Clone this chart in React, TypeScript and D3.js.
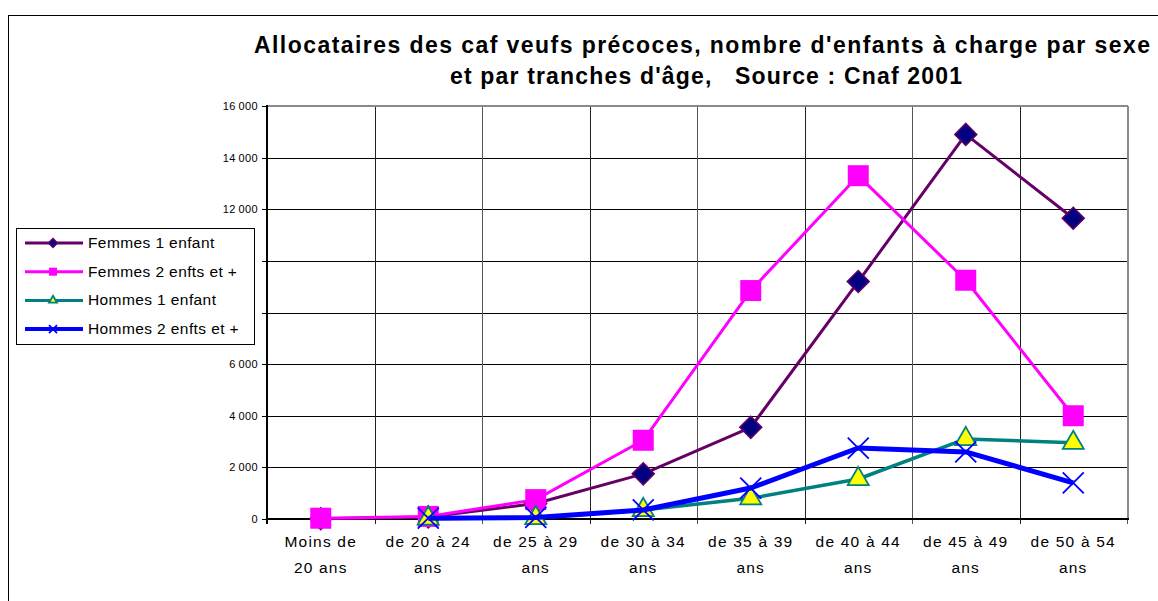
import React from "react";
import * as d3 from "d3";

// age brackets (two text lines each, as printed under the axis)
const categoryLine1 = ["Moins de", "de 20 à 24", "de 25 à 29", "de 30 à 34", "de 35 à 39", "de 40 à 44", "de 45 à 49", "de 50 à 54"];
const categoryLine2 = ["20 ans", "ans", "ans", "ans", "ans", "ans", "ans", "ans"];

// values (null = no point)
const femmes1 = [10, 80, 600, 1750, 3550, 9200, 14900, 11650];
const femmes2 = [30, 100, 750, 3050, 8850, 13300, 9250, 4000];
const hommes1 = [null, 20, 40, 350, 800, 1550, 3100, 2950];
const hommes2 = [null, 30, 60, 350, 1200, 2750, 2600, 1400];

const seriesNames = ["Femmes 1 enfant", "Femmes 2 enfts et +", "Hommes 1 enfant", "Hommes 2 enfts et +"];
const yTicks = [0, 2000, 4000, 6000, 8000, 10000, 12000, 14000, 16000];

const titleLine1 = "Allocataires des caf veufs précoces, nombre d'enfants à charge par sexe";
const titleLine2 = "et par tranches d'âge,   Source : Cnaf 2001";

const W = 1158;
const H = 601;
const plot = { left: 267, right: 1127, top: 106, bottom: 519 };
const legendBox = { x: 16.5, y: 228.5, w: 238, h: 116 };
const font = "'Liberation Sans', Arial, sans-serif";

type Style = { line: string; width: number; marker: string };
const styles: Style[] = [
  { line: "#660066", width: 3, marker: "diamond" },
  { line: "#ff00ff", width: 3, marker: "square" },
  { line: "#008080", width: 3.5, marker: "triangle" },
  { line: "#0000ff", width: 5, marker: "cross" },
];

function Marker({ kind, x, y, s }: { kind: string; x: number; y: number; s: number }) {
  if (kind === "diamond") {
    const p = d3.symbol().type(d3.symbolSquare).size(s * s * 0.5)();
    return <path d={p!} transform={`translate(${x},${y}) rotate(45)`} fill="#000080" stroke="#660066" strokeWidth={1.5} />;
  }
  if (kind === "square") {
    const p = d3.symbol().type(d3.symbolSquare).size(s * s)();
    return <path d={p!} transform={`translate(${x},${y})`} fill="#ff00ff" />;
  }
  if (kind === "triangle") {
    const p = d3.symbol().type(d3.symbolTriangle).size((Math.sqrt(3) / 4) * s * s)();
    return <path d={p!} transform={`translate(${x},${y})`} fill="#ffff00" stroke="#008080" strokeWidth={1.8} />;
  }
  const h = s / 2;
  return (
    <path d={`M${x - h},${y - h}L${x + h},${y + h}M${x - h},${y + h}L${x + h},${y - h}`} stroke="#0000ff" strokeWidth={1.8} fill="none" />
  );
}

export default function App() {
  const allSeries = [femmes1, femmes2, hommes1, hommes2];

  const x = d3.scaleBand<number>().domain(d3.range(categoryLine1.length)).range([plot.left, plot.right]).padding(0);
  const y = d3.scaleLinear().domain([0, 16000]).range([plot.bottom, plot.top]);
  const cx = (i: number) => (x(i) as number) + x.bandwidth() / 2;

  const line = d3
    .line<number | null>()
    .defined((d) => d !== null)
    .x((_, i) => cx(i))
    .y((d) => y(d as number));

  const bounds = d3.range(categoryLine1.length + 1).map((i) => plot.left + i * x.bandwidth());
  // Excel drops the tick labels that the legend sits on
  const hiddenByLegend = (t: number) => y(t) > legendBox.y - 6 && y(t) < legendBox.y + legendBox.h + 6;

  return (
    <svg width={W} height={H} style={{ position: "absolute", left: 0, top: 0, background: "#fff" }}>
      {/* outer chart frame */}
      <rect x={8.5} y={15.5} width={1200} height={700} fill="#fff" stroke="#000" strokeWidth={1} />

      {/* title */}
      <text x={254} y={53} fontFamily={font} fontWeight="bold" fontSize={23} textLength={896} lengthAdjust="spacing">
        {titleLine1}
      </text>
      <text x={450} y={84} fontFamily={font} fontWeight="bold" fontSize={23} textLength={512} lengthAdjust="spacing" style={{ whiteSpace: "pre" }}>
        {titleLine2}
      </text>

      {/* horizontal grid */}
      {yTicks.map((t) => (
        <g key={t}>
          <line x1={plot.left - 5} x2={plot.right} y1={Math.round(y(t)) + 0.5} y2={Math.round(y(t)) + 0.5} stroke="#000" strokeWidth={1} />
          {!hiddenByLegend(t) && (
            <text x={258} y={y(t) + 4} textAnchor="end" fontFamily={font} fontSize={11} letterSpacing={0.4}>
              {d3.format(",")(t).replace(",", "\u2009")}
            </text>
          )}
        </g>
      ))}

      {/* vertical grid + x ticks */}
      {bounds.map((b, i) => (
        <line key={i} x1={Math.round(b) + 0.5} x2={Math.round(b) + 0.5} y1={plot.top} y2={plot.bottom + 5} stroke={i % 2 ? "#222" : "#555"} strokeWidth={1} />
      ))}

      {/* plot frame */}
      <line x1={plot.left} x2={plot.right + 1} y1={plot.top} y2={plot.top} stroke="#8a8a8a" strokeWidth={2} />
      <line x1={plot.right + 1} x2={plot.right + 1} y1={plot.top} y2={plot.bottom} stroke="#8a8a8a" strokeWidth={2} />
      <line x1={plot.left} x2={plot.left} y1={plot.top - 1} y2={plot.bottom + 5} stroke="#000" strokeWidth={2} />
      <line x1={plot.left} x2={plot.right + 2} y1={plot.bottom} y2={plot.bottom} stroke="#000" strokeWidth={2} />

      {/* x labels */}
      {categoryLine1.map((c, i) => (
        <g key={c} fontFamily={font} fontSize={15.5} textAnchor="middle" letterSpacing={1.2}>
          <text x={cx(i)} y={547}>{c}</text>
          <text x={cx(i)} y={573}>{categoryLine2[i]}</text>
        </g>
      ))}

      {/* series */}
      {allSeries.map((s, k) => (
        <g key={seriesNames[k]}>
          <path d={line(s)!} fill="none" stroke={styles[k].line} strokeWidth={styles[k].width} strokeLinejoin="round" />
          {s.map((v, i) =>
            v === null ? null : <Marker key={i} kind={styles[k].marker} x={cx(i)} y={y(v)} s={k === 0 ? 22 : 21} />
          )}
        </g>
      ))}

      {/* legend */}
      <rect x={legendBox.x} y={legendBox.y} width={legendBox.w} height={legendBox.h} fill="#fff" stroke="#000" strokeWidth={1} />
      {seriesNames.map((n, k) => {
        const ly = 243 + k * 28.7;
        return (
          <g key={n}>
            <line x1={25} x2={83} y1={ly} y2={ly} stroke={styles[k].line} strokeWidth={k === 3 ? 4 : 3} />
            <Marker kind={styles[k].marker} x={53} y={ly} s={k === 0 ? 9 : 8} />
            <text x={88} y={ly + 5} fontFamily={font} fontSize={15.5} letterSpacing={0.4}>
              {n}
            </text>
          </g>
        );
      })}
    </svg>
  );
}
